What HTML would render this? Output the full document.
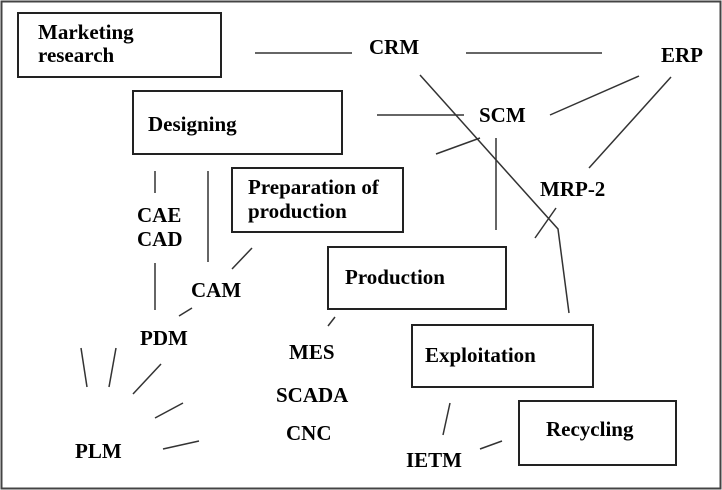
<!DOCTYPE html>
<html><head><meta charset="utf-8"><style>
html,body{margin:0;padding:0;background:#fff;width:722px;height:490px;overflow:hidden}
text{font-family:"Liberation Serif",serif;font-weight:bold;font-size:21px;fill:#000}
</style></head><body>
<svg width="722" height="490" viewBox="0 0 722 490" xmlns="http://www.w3.org/2000/svg">
<rect x="1.5" y="1.5" width="719" height="487" fill="#fff" stroke="#444" stroke-width="2"/>
<g fill="none" stroke="#222" stroke-width="2">
<rect x="18" y="13" width="203" height="64"/>
<rect x="133" y="91" width="209" height="63"/>
<rect x="232" y="168" width="171" height="64"/>
<rect x="328" y="247" width="178" height="62"/>
<rect x="412" y="325" width="181" height="62"/>
<rect x="519" y="401" width="157" height="64"/>
</g>
<g stroke="#333" stroke-width="1.5" fill="none">
<line x1="255" y1="53" x2="352" y2="53"/>
<line x1="466" y1="53" x2="602" y2="53"/>
<polyline points="420,75 558,229 569,313"/>
<line x1="639" y1="76" x2="550" y2="115"/>
<line x1="671" y1="77" x2="589" y2="168"/>
<line x1="377" y1="115" x2="464" y2="115"/>
<line x1="480" y1="138" x2="436" y2="154"/>
<line x1="496" y1="138" x2="496" y2="230"/>
<line x1="556" y1="208" x2="535" y2="238"/>
<line x1="155" y1="171" x2="155" y2="193"/>
<line x1="155" y1="263" x2="155" y2="310"/>
<line x1="208" y1="171" x2="208" y2="262"/>
<line x1="252" y1="248" x2="232" y2="269"/>
<line x1="192" y1="308" x2="179" y2="316"/>
<line x1="335" y1="317" x2="328" y2="326"/>
<line x1="81" y1="348" x2="87" y2="387"/>
<line x1="116" y1="348" x2="109" y2="387"/>
<line x1="161" y1="364" x2="133" y2="394"/>
<line x1="183" y1="403" x2="155" y2="418"/>
<line x1="199" y1="441" x2="163" y2="449"/>
<line x1="450" y1="403" x2="443" y2="435"/>
<line x1="502" y1="441" x2="480" y2="449"/>
</g>
<text x="38" y="39">Marketing</text>
<text x="38" y="62">research</text>
<text x="369" y="54">CRM</text>
<text x="661" y="62">ERP</text>
<text x="148" y="131">Designing</text>
<text x="479" y="122">SCM</text>
<text x="248" y="194">Preparation of</text>
<text x="248" y="218">production</text>
<text x="540" y="196">MRP-2</text>
<text x="137" y="222">CAE</text>
<text x="137" y="246">CAD</text>
<text x="191" y="297">CAM</text>
<text x="345" y="284">Production</text>
<text x="140" y="345">PDM</text>
<text x="289" y="359">MES</text>
<text x="425" y="362">Exploitation</text>
<text x="276" y="402">SCADA</text>
<text x="286" y="440">CNC</text>
<text x="546" y="436">Recycling</text>
<text x="75" y="458">PLM</text>
<text x="406" y="467">IETM</text>
</svg>
</body></html>
